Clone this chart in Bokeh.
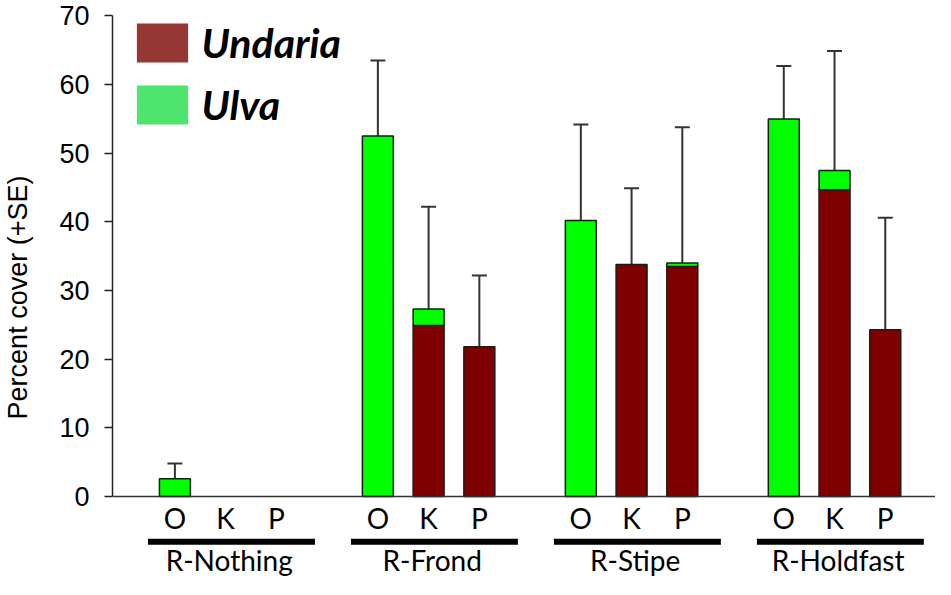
from bokeh.plotting import figure
from bokeh.models import (Range1d, FixedTicker, Span, Whisker, TeeHead,
                          ColumnDataSource, Legend, LegendItem)
from bokeh.core.properties import value
from bokeh.embed import file_html
from bokeh.resources import INLINE

# ---- data ----
groups = ["R-Nothing", "R-Frond", "R-Stipe", "R-Holdfast"]
treatments = ["O", "K", "P"]
undaria = [0, 0, 0, 0, 24.9, 21.8, 0, 33.8, 33.5, 0, 44.7, 24.3]
ulva = [2.6, 0, 0, 52.5, 2.4, 0, 40.2, 0, 0.5, 55.0, 2.8, 0]
se = [2.2, 0, 0, 11.0, 14.9, 10.4, 14.0, 11.1, 19.8, 7.7, 17.4, 16.3]
y_ticks = [0, 10, 20, 30, 40, 50, 60, 70]

# ---- positions (slot layout: 3 bars + 1 gap per group) ----
n_t = len(treatments)
xs = [g * (n_t + 1) + t for g in range(len(groups)) for t in range(n_t)]
labels = [treatments[t] for g in range(len(groups)) for t in range(n_t)]
totals = [u + v for u, v in zip(undaria, ulva)]

und_src = ColumnDataSource(dict(
    x=[x for x, u in zip(xs, undaria) if u > 0],
    top=[u for u in undaria if u > 0]))
ulv_src = ColumnDataSource(dict(
    x=[x for x, v in zip(xs, ulva) if v > 0],
    bottom=[u for u, v in zip(undaria, ulva) if v > 0],
    top=[u + v for u, v in zip(undaria, ulva) if v > 0]))
err_src = ColumnDataSource(dict(
    x=[x for x, s in zip(xs, se) if s > 0],
    lower=[t for t, s in zip(totals, se) if s > 0],
    upper=[t + s for t, s in zip(totals, se) if s > 0]))

W, H = 935, 579
p = figure(width=W, height=H, output_backend="svg", toolbar_location=None,
           x_range=Range1d(-1.23, 14.99), y_range=Range1d(-12.09, 70.07),
           x_axis_location=None, min_border_left=111, min_border_right=0,
           min_border_top=15, min_border_bottom=0)
p.grid.visible = False
p.outline_line_color = None
p.background_fill_color = "white"

BW = 0.61
EDGE = "#1a1a1a"
p.vbar(x="x", top="top", bottom=0, width=BW, source=und_src,
       fill_color="#800000", line_color=EDGE, line_width=1.5)
p.vbar(x="x", top="top", bottom="bottom", width=BW, source=ulv_src,
       fill_color="#00FF00", line_color=EDGE, line_width=1.5)

p.add_layout(Whisker(source=err_src, base="x", upper="upper", lower="lower",
                     line_color="#333333", line_width=2,
                     upper_head=TeeHead(size=15, line_color="#333333", line_width=2),
                     lower_head=None))

p.add_layout(Span(location=0, dimension="width", line_color="#333333",
                  line_width=1.5))

# y axis
ax = p.yaxis[0]
ax.ticker = FixedTicker(ticks=y_ticks)
ax.bounds = (0, 70)
ax.minor_tick_line_color = None
ax.major_tick_in = 0
ax.major_tick_out = 8
ax.major_tick_line_width = 1.5
ax.major_tick_line_color = "#222222"
ax.axis_line_color = "#222222"
ax.axis_line_width = 1.5
ax.major_label_text_font = "Liberation Sans"
ax.major_label_text_font_size = "27px"
ax.major_label_text_color = "black"
ax.major_label_standoff = 15
ax.axis_label = "Percent cover (+SE)"
ax.axis_label_text_font = "Liberation Sans"
ax.axis_label_text_font_style = "normal"
ax.axis_label_text_font_size = "27px"
ax.axis_label_text_color = "black"
ax.axis_label_standoff = 23

# category labels under bars
p.text(x=xs, y=[-3.2] * len(xs), text=labels, text_font=value("Lato"),
       text_font_size="28px", text_align="center", text_baseline="alphabetic",
       text_color="black")

# group bars and labels
gx0 = [g * (n_t + 1) - 0.53 for g in range(len(groups))]
gx1 = [g * (n_t + 1) + 2.76 for g in range(len(groups))]
p.segment(x0=gx0, x1=gx1, y0=[-6.6] * len(groups), y1=[-6.6] * len(groups),
          line_width=6, line_color="black")
p.text(x=[g * (n_t + 1) + 1.07 for g in range(len(groups))],
       y=[-9.25] * len(groups), text=groups, text_font=value("Lato"),
       text_font_size="28px", text_align="center", text_baseline="alphabetic",
       text_color="black")

# legend (own colours); dummy renderers hold NaN so they draw nothing
nan = float("nan")
r_und = p.vbar(x=[nan], top=[nan], width=0.5, fill_color="#953735", line_alpha=0)
r_ulv = p.vbar(x=[nan], top=[nan], width=0.5, fill_color="#4EE46E", line_alpha=0)
leg = Legend(items=[LegendItem(label="Undaria", renderers=[r_und]),
                    LegendItem(label="Ulva", renderers=[r_ulv])],
             location=(17.6, 450), glyph_width=64, glyph_height=49,
             label_height=10, label_width=10, spacing=13, padding=0, margin=0,
             label_standoff=8, border_line_alpha=0, background_fill_alpha=0,
             label_text_font="Lato", label_text_font_style="bold italic",
             label_text_font_size="41px", label_text_color="black")
p.add_layout(leg)

open("out.html", "w").write(file_html(p, INLINE))
